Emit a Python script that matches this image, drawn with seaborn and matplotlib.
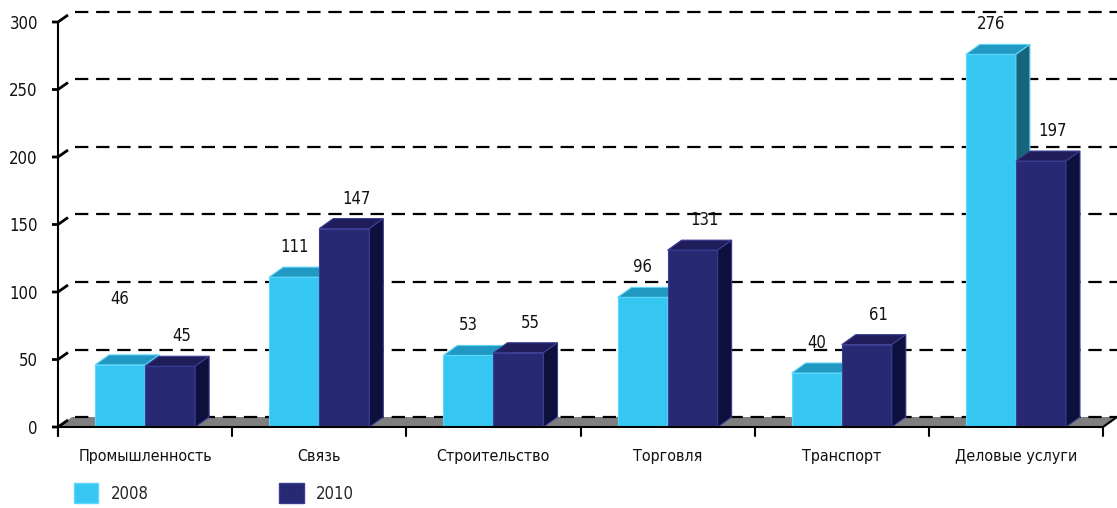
import matplotlib
matplotlib.use("Agg")
import matplotlib.pyplot as plt
from matplotlib.colors import to_rgba
from matplotlib.patches import Patch, Polygon
import pandas as pd
import seaborn as sns

categories = ["Промышленность", "Связь", "Строительство", "Торговля", "Транспорт", "Деловые услуги"]
years = ["2008", "2010"]
values_2008 = [46, 111, 53, 96, 40, 276]
values_2010 = [45, 147, 55, 131, 61, 197]
y_ticks = [0, 50, 100, 150, 200, 250, 300]

front = {"2008": "#36c6f2", "2010": "#272972"}
top = {"2008": "#2299c2", "2010": "#1f1e5b"}
side = {"2008": "#17657d", "2010": "#0d0f3c"}
edge = {"2008": "#5fd6fb", "2010": "#3b3d94"}

df = pd.DataFrame({
    "sector": categories * 2,
    "year": [years[0]] * len(categories) + [years[1]] * len(categories),
    "value": values_2008 + values_2010,
})

sns.set_theme(style="white")
plt.rcParams["font.family"] = ["DejaVu Sans"]
plt.rcParams["font.stretch"] = "condensed"

W, H = 1117, 508
fig = plt.figure(figsize=(W / 100, H / 100), dpi=100)
ax = fig.add_axes([58 / W, 81 / H, 1045 / W, 405 / H])
sns.barplot(data=df, x="sector", y="value", hue="year", palette=front,
            width=0.575, gap=0, saturation=1, legend=False, ax=ax)

ax.set_xlim(-0.5, len(categories) - 0.5)
ax.set_ylim(0, 300)
px_x = 1045 / len(categories)
px_y = 405 / 300
dx, dy = 14 / px_x, 10 / px_y
x_left, x_right = -0.5, len(categories) - 0.5

# pseudo-3d faces
for p in ax.patches:
    x0, w, h = p.get_x(), p.get_width(), p.get_height()
    yr = "2008" if to_rgba(p.get_facecolor()) == to_rgba(front["2008"]) else "2010"
    z = 3 if yr == "2008" else 4
    p.set_zorder(z)
    p.set_edgecolor(edge[yr])
    p.set_linewidth(0.8)
    ax.add_patch(Polygon([(x0, h), (x0 + w, h), (x0 + w + dx, h + dy), (x0 + dx, h + dy)],
                         fc=top[yr], ec=edge[yr], lw=0.8, zorder=z, clip_on=False))
    ax.add_patch(Polygon([(x0 + w, 0), (x0 + w + dx, dy), (x0 + w + dx, h + dy), (x0 + w, h)],
                         fc=side[yr], ec=edge[yr], lw=0.8, zorder=z, clip_on=False))
    shift = 0 if yr == "2008" else 12 / px_x
    lift = 30
    if yr == "2008" and abs(x0 + w) < 0.01:
        lift = 66  # the first label sits higher in the original
    ax.annotate(f"{h:.0f}", (x0 + w / 2 + shift, h), xytext=(0, lift * 0.72),
                textcoords="offset points", ha="center", va="center",
                fontsize=12, color="#111111", zorder=6, annotation_clip=False)

# floor
ax.add_patch(Polygon([(x_left, 0), (x_right, 0), (x_right + dx, dy), (x_left + dx, dy)],
                     fc="#7f7f7f", ec="none", zorder=1, clip_on=False))

# dashed grid on the back wall
for v in y_ticks:
    ax.plot([x_left + dx + 3 / px_x, x_right + dx], [v + dy, v + dy], color="black",
            lw=1.6, ls=(0, (6, 3.5)), zorder=2, clip_on=False)
    ax.plot([x_left - 6 / px_x, x_left, x_left + 10 / px_x], [v, v, v + 7 / px_y],
            color="black", lw=2, zorder=5, clip_on=False, solid_capstyle="butt")

# axes lines
ax.plot([x_left, x_left], [-9 / px_y, 300], color="black", lw=1.5, zorder=5, clip_on=False)
ax.plot([x_left, x_right, x_right + dx], [0, 0, dy], color="black", lw=1.5, zorder=5, clip_on=False)
for k in range(len(categories) + 1):
    ax.plot([x_left + k, x_left + k], [0, -9 / px_y], color="black", lw=1.5, zorder=5, clip_on=False)

for s in ax.spines.values():
    s.set_visible(False)
ax.set_yticks(y_ticks)
ax.tick_params(axis="y", length=0, pad=14.5, labelsize=12, labelcolor="#111111")
ax.tick_params(axis="x", length=0, pad=16, labelsize=11.5, labelcolor="#111111")
ax.set_xlabel("")
ax.set_ylabel("")
ax.grid(False)

handles = [Patch(fc=front[y], ec=edge[y]) for y in years]
fig.legend(handles, years, ncol=2, loc="upper left", bbox_to_anchor=(74 / W, 1 - 483 / H),
           frameon=False, fontsize=12, handlelength=1.45, handleheight=1.5,
           handletextpad=0.75, columnspacing=7.85, borderpad=0, borderaxespad=0)

fig.savefig("out.png", dpi=100)
